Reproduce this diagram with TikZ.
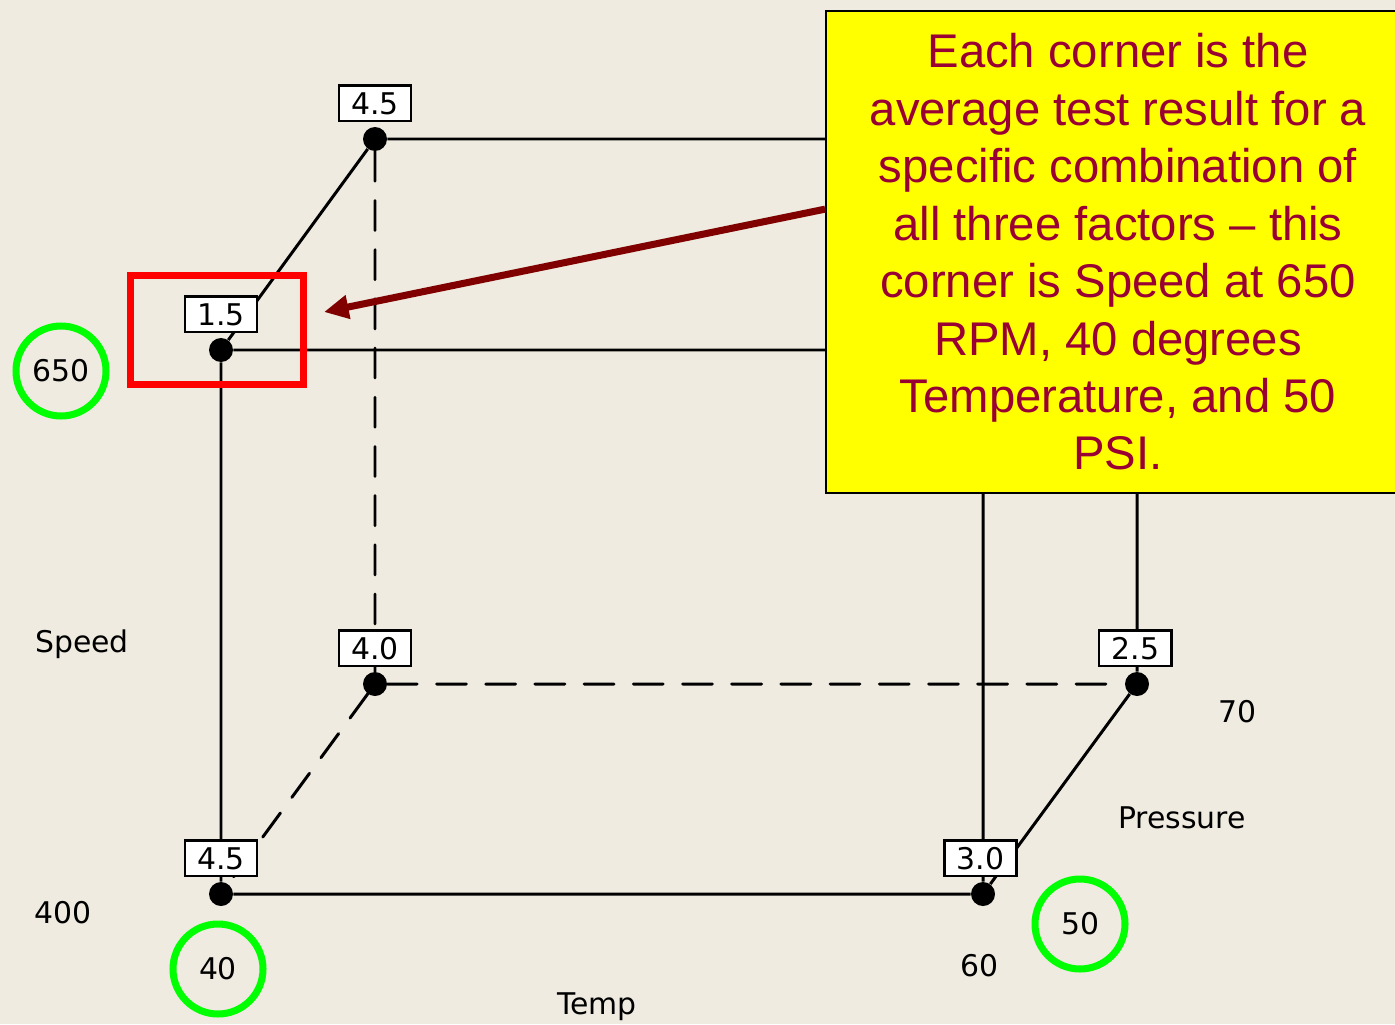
\documentclass[tikz,border=0pt]{standalone}
\usepackage{fontspec}
\usepackage{tikz}
\usetikzlibrary{positioning, arrows.meta}
\newfontfamily\labelfont{DejaVu Sans}
\newfontfamily\notefont{Liberation Sans}
\definecolor{myPaper}{RGB}{239,235,224}
\definecolor{myYellow}{RGB}{255,255,0}
\definecolor{myWine}{RGB}{153,0,51}
\definecolor{myMaroon}{RGB}{128,0,0}
\definecolor{myGreen}{RGB}{0,255,0}
\definecolor{myRed}{RGB}{255,0,0}

\begin{document}
\begin{tikzpicture}[
  x=0.02cm, y=-0.02cm,
  dot/.style={circle, fill=black, inner sep=0pt, minimum size=0.48cm},
  edge/.style={line width=1.7pt},
  hidden/.style={edge, dash pattern=on 17pt off 11pt, line cap=round},
  val/.style={draw, fill=white, line width=1.4pt, font=\fontsize{17}{20}\labelfont,
    text height=12.5pt, text depth=0pt, inner xsep=7pt, inner ysep=3.8pt},
  tag/.style={font=\fontsize{17}{20}\labelfont, anchor=base, inner sep=0pt},
  ring/.style={circle, draw=myGreen, line width=4pt, minimum size=1.8cm,
    inner sep=0pt, font=\fontsize{17}{20}\labelfont},
  hilite/.style={draw=myRed, line width=4pt, minimum width=3.46cm,
    minimum height=2.18cm, inner sep=0pt},
  note/.style={draw, line width=1.1pt, fill=myYellow, text=myWine, align=center,
    font=\fontsize{26.9}{32.7}\notefont, minimum width=11.68cm, minimum height=9.64cm},
  pointer/.style={draw=myMaroon, line width=4pt, -{Triangle[length=14pt, width=13pt]}},
]
  \useasboundingbox (0,0) rectangle (1395,1024);
  \fill[myPaper] (0,0) rectangle (1395,1024);

  % corners of the cube
  \node[dot] (btl) at (375,139) {};
  \node[dot] (flt) at (221,350) {};
  \node[dot] (bbl) at (375,684) {};
  \node[dot] (brb) at (1137,684) {};
  \node[dot] (flb) at (221,894) {};
  \node[dot] (frb) at (983,894) {};
  \coordinate (frt) at (983,350);
  \coordinate (brt) at (1137,139);

  \draw[edge] (btl) -- (brt) (btl) -- (flt) (flt) -- (frt) (flt) -- (flb)
    (flb) -- (frb) (frb) -- (brb) (frt) -- (frb) (brt) -- (brb);
  \draw[hidden] (btl) -- (bbl) (bbl) -- (brb) (bbl) -- (flb);

  % test results
  \node[val, above=2.5pt of btl] (vbtl) {4.5};
  \node[val, above=2.5pt of flt] (vflt) {1.5};
  \node[val, above=2.5pt of bbl] (vbbl) {4.0};
  \node[val, above=2.5pt of brb, xshift=-1pt] (vbrb) {2.5};
  \node[val, above=2.5pt of flb] (vflb) {4.5};
  \node[val, above=2.5pt of frb, xshift=-1.5pt] (vfrb) {3.0};

  % factor levels
  \node[tag] (speed) at (82,652) {Speed};
  \node[tag] (low) at (63,923) {400};
  \node[tag] (hot) at (979,976) {60};
  \node[tag] (temp) at (597,1014) {Temp};
  \node[tag] (high) at (1237,722) {70};
  \node[tag] (press) at (1182,828) {Pressure};
  \node[ring] (fast) at (61,371) {650};
  \node[ring] (cold) at (218,969) {40};
  \node[ring] (psi) at (1080,924) {50};

  \node[hilite] (focus) at (217,330) {};
  \node[note] (info) at (1118,252)
    {Each corner is the\\ average test result for a\\ specific combination of\\
     all three factors – this\\ corner is Speed at 650\\ RPM, 40 degrees\\
     Temperature, and 50\\ PSI.};
  \coordinate (aim) at (324,312);
  \draw[pointer] ([yshift=24.4pt]info.west) -- (aim);
\end{tikzpicture}
\end{document}
